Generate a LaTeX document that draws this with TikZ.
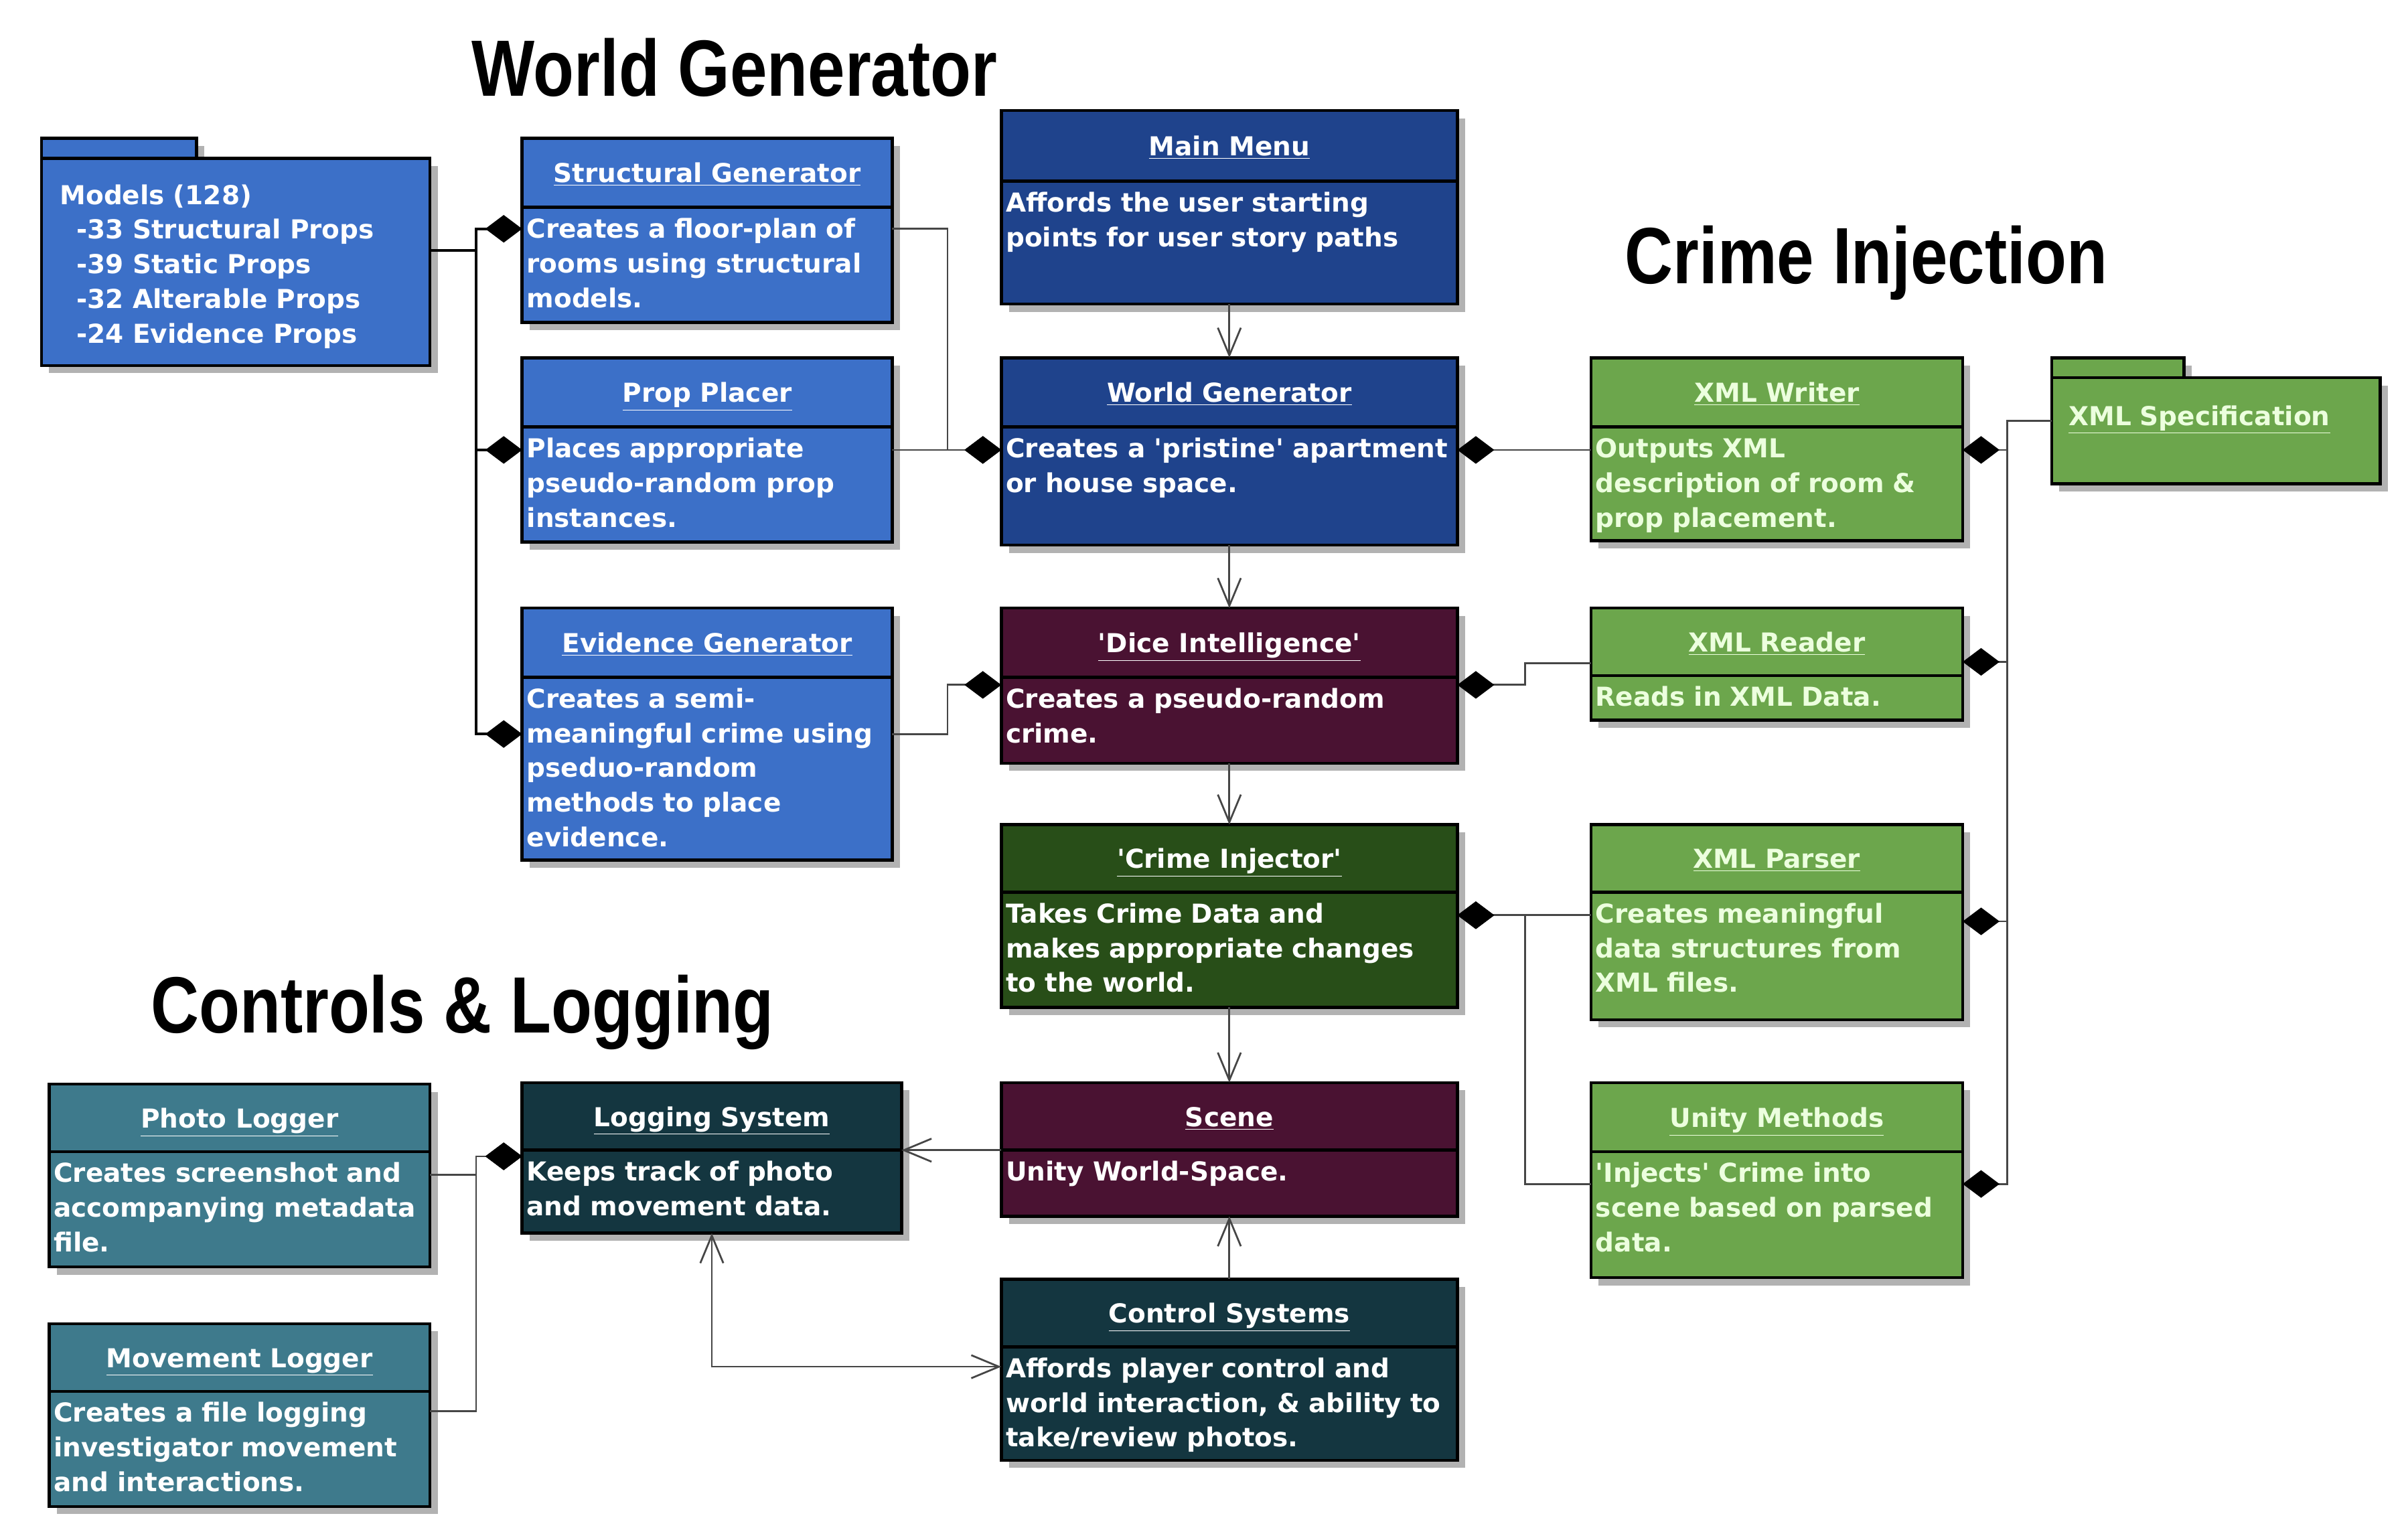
\documentclass[tikz,border=0pt]{standalone}
\usepackage{fontspec}
\setmainfont{DejaVu Sans}
\newfontfamily\titlefont[FakeStretch=0.836]{Liberation Sans}
\usepackage{tikz}
\usetikzlibrary{arrows.meta,shapes,positioning,shadows}
\usepackage{xcolor}
\definecolor{wgblue}{RGB}{60,112,200}
\definecolor{wgnavy}{RGB}{31,67,140}
\definecolor{ciwine}{RGB}{74,18,50}
\definecolor{ciforest}{RGB}{40,78,24}
\definecolor{cigreen}{RGB}{108,166,76}
\definecolor{cilight}{RGB}{236,255,222}
\definecolor{clteal}{RGB}{62,122,140}
\definecolor{cldark}{RGB}{20,54,64}
\definecolor{wiregray}{RGB}{70,70,70}
\tikzstyle{boxshadow} = [drop shadow={shadow xshift=5pt, shadow yshift=-5pt, fill=black!30, opacity=1}]
\tikzstyle{boxfont} = [font={\fontsize{17}{22.6}\selectfont\bfseries}]
\tikzstyle{classhead} = [rectangle, draw=black, line width=2pt, outer sep=0pt, inner sep=0pt, text=white, boxfont, text height=15pt, text depth=2pt, minimum height=45pt, anchor=north west, boxshadow]
\tikzstyle{classbody} = [rectangle, draw=black, line width=2pt, outer sep=0pt, inner xsep=3pt, inner ysep=3pt, text=white, boxfont, align=left, text height=17pt, boxshadow]
\tikzstyle{tabbox} = [rectangle, draw=black, line width=2pt, outer sep=0pt, inner sep=0pt, anchor=north west, boxshadow]
\tikzstyle{pkgbox} = [classbody, anchor=north west, inner ysep=3pt]
\tikzstyle{titletext} = [inner sep=0pt, anchor=base west, font={\titlefont\fontsize{52}{60}\selectfont\bfseries}]
\tikzstyle{line} = [draw=wiregray, line width=1.2pt]
\tikzstyle{arrow} = [line, -{Straight Barb[length=18pt,width=15pt]}]
\tikzstyle{twoway} = [line, {Straight Barb[length=18pt,width=15pt]}-{Straight Barb[length=18pt,width=15pt]}]
\tikzstyle{agg} = [line, -{Diamond[length=24pt,width=18pt,color=black]}]

\begin{document}
\begin{tikzpicture}[x=1pt, y=-1pt]
\useasboundingbox (0,0) rectangle (1568,995);

\node (wgtitle) [titletext] at (307,62.5) {World Generator};
\node (cititle) [titletext] at (1058,184.6) {Crime Injection};
\node (cltitle) [titletext] at (98,672.4) {Controls \& Logging};

\node (models-tab) [tabbox, fill=wgblue, minimum width=101pt, minimum height=13pt] at (27,90) {};
\node (models) [pkgbox, fill=wgblue, text width=229pt, inner xsep=12pt, text height=27pt, text depth=102pt] at (27,103) {Models (128)\\\hspace*{11pt}-33 Structural Props\\\hspace*{11pt}-39 Static Props\\\hspace*{11pt}-32 Alterable Props\\\hspace*{11pt}-24 Evidence Props};

\node (sgen) [classhead, fill=wgblue, minimum width=241pt] at (340,90) {\underline{Structural Generator}};
\node (sgen-b) [classbody, fill=wgblue, text width=235pt, text depth=52pt, below=0pt of sgen] {Creates a floor-plan of\\rooms using structural\\models.};
\node (pplace) [classhead, fill=wgblue, minimum width=241pt] at (340,233) {\underline{Prop Placer}};
\node (pplace-b) [classbody, fill=wgblue, text width=235pt, text depth=52pt, below=0pt of pplace] {Places appropriate\\pseudo-random prop\\instances.};
\node (egen) [classhead, fill=wgblue, minimum width=241pt] at (340,396) {\underline{Evidence Generator}};
\node (egen-b) [classbody, fill=wgblue, text width=235pt, text depth=96pt, below=0pt of egen] {Creates a semi-\\meaningful crime using\\pseduo-random\\methods to place\\evidence.};

\node (mmenu) [classhead, fill=wgnavy, minimum width=297pt, minimum height=46pt] at (652,72) {\underline{Main Menu}};
\node (mmenu-b) [classbody, fill=wgnavy, text width=291pt, text depth=57pt, below=0pt of mmenu] {Affords the user starting\\points for user story paths};
\node (wgen) [classhead, fill=wgnavy, minimum width=297pt] at (652,233) {\underline{World Generator}};
\node (wgen-b) [classbody, fill=wgnavy, text width=291pt, text depth=54pt, below=0pt of wgen] {Creates a \textquotesingle pristine\textquotesingle{} apartment\\or house space.};
\node (dice) [classhead, fill=ciwine, minimum width=297pt] at (652,396) {\underline{\textquotesingle Dice Intelligence\textquotesingle}};
\node (dice-b) [classbody, fill=ciwine, text width=291pt, text depth=33pt, below=0pt of dice] {Creates a pseudo-random\\crime.};
\node (cinj) [classhead, fill=ciforest, minimum width=297pt, minimum height=44pt] at (652,537) {\underline{\textquotesingle Crime Injector\textquotesingle}};
\node (cinj-b) [classbody, fill=ciforest, text width=291pt, text depth=52pt, below=0pt of cinj] {Takes Crime Data and\\makes appropriate changes\\to the world.};
\node (scene) [classhead, fill=ciwine, minimum width=297pt, minimum height=44pt] at (652,705) {\underline{Scene}};
\node (scene-b) [classbody, fill=ciwine, text width=291pt, text depth=20pt, below=0pt of scene] {Unity World-Space.};
\node (ctrl) [classhead, fill=cldark, minimum width=297pt, minimum height=44pt] at (652,833) {\underline{Control Systems}};
\node (ctrl-b) [classbody, fill=cldark, text width=291pt, text depth=51pt, below=0pt of ctrl] {Affords player control and\\world interaction, \& ability to\\take/review photos.};

\node (xwrite) [classhead, fill=cigreen, text=cilight, minimum width=242pt] at (1036,233) {\underline{XML Writer}};
\node (xwrite-b) [classbody, fill=cigreen, text=cilight, text width=236pt, text depth=51pt, below=0pt of xwrite] {Outputs XML\\description of room \&\\prop placement.};
\node (xread) [classhead, fill=cigreen, text=cilight, minimum width=242pt, minimum height=44pt] at (1036,396) {\underline{XML Reader}};
\node (xread-b) [classbody, fill=cigreen, text=cilight, text width=236pt, text depth=6pt, below=0pt of xread] {Reads in XML Data.};
\node (xparse) [classhead, fill=cigreen, text=cilight, minimum width=242pt, minimum height=44pt] at (1036,537) {\underline{XML Parser}};
\node (xparse-b) [classbody, fill=cigreen, text=cilight, text width=236pt, text depth=60pt, below=0pt of xparse] {Creates meaningful\\data structures from\\XML files.};
\node (unity) [classhead, fill=cigreen, text=cilight, minimum width=242pt] at (1036,705) {\underline{Unity Methods}};
\node (unity-b) [classbody, fill=cigreen, text=cilight, text width=236pt, text depth=59pt, below=0pt of unity] {\textquotesingle Injects\textquotesingle{} Crime into\\scene based on parsed\\data.};

\node (spec-tab) [tabbox, fill=cigreen, minimum width=86pt, minimum height=13pt] at (1336,233) {};
\node (spec) [pkgbox, fill=cigreen, text=cilight, text width=192pt, inner xsep=11pt, text height=28pt, text depth=35pt] at (1336,246) {\underline{XML Specification}};

\node (plog) [classhead, fill=clteal, minimum width=248pt, minimum height=44pt] at (32,706) {\underline{Photo Logger}};
\node (plog-b) [classbody, fill=clteal, text width=242pt, text depth=52pt, below=0pt of plog] {Creates screenshot and\\accompanying metadata\\file.};
\node (mlog) [classhead, fill=clteal, minimum width=248pt, minimum height=44pt] at (32,862) {\underline{Movement Logger}};
\node (mlog-b) [classbody, fill=clteal, text width=242pt, text depth=52pt, below=0pt of mlog] {Creates a file logging\\investigator movement\\and interactions.};
\node (logsys) [classhead, fill=cldark, minimum width=247pt, minimum height=44pt] at (340,705) {\underline{Logging System}};
\node (logsys-b) [classbody, fill=cldark, text width=241pt, text depth=31pt, below=0pt of logsys] {Keeps track of photo\\and movement data.};

\draw[agg, draw=black, line width=1.6pt] ([yshift=-60pt]models.north east) -- ++(30,0) |- ([yshift=-14pt]sgen-b.north west);
\draw[agg, draw=black, line width=1.6pt] ([yshift=-60pt]models.north east) -- ++(30,0) |- ([yshift=-15pt]pplace-b.north west);
\draw[agg, draw=black, line width=1.6pt] ([yshift=-60pt]models.north east) -- ++(30,0) |- ([yshift=-37pt]egen-b.north west);
\draw[agg] ([yshift=-14pt]sgen-b.north east) -- ++(36,0) |- ([yshift=-15pt]wgen-b.north west);
\draw[agg] ([yshift=-15pt]pplace-b.north east) -- ([yshift=-15pt]wgen-b.north west);
\draw[agg] ([yshift=-37pt]egen-b.north east) -- ++(36,0) |- ([yshift=-5pt]dice-b.north west);

\draw[arrow] (mmenu-b) -- (wgen);
\draw[arrow] (wgen-b) -- (dice);
\draw[arrow] (dice-b) -- (cinj);
\draw[arrow] (cinj-b) -- (scene);
\draw[arrow] (ctrl) -- (scene-b);
\draw[arrow] (scene.south west) -- (logsys.south east);
\draw[twoway] (logsys-b.south) |- ([yshift=-13pt]ctrl-b.north west);

\draw[agg] ([yshift=-15pt]plog-b.north east) -- ++(30,0) |- ([yshift=-4pt]logsys-b.north west);
\draw[agg] ([yshift=-13pt]mlog-b.north east) -- ++(30,0) |- ([yshift=-4pt]logsys-b.north west);

\draw[agg] ([yshift=-15pt]xwrite-b.north west) -- ([yshift=-15pt]wgen-b.north east);
\draw[agg] ([yshift=8pt]xread.south west) -- ++(-43,0) |- ([yshift=-5pt]dice-b.north east);
\draw[agg] ([yshift=-15pt]xparse-b.north west) -- ([yshift=-15pt]cinj-b.north east);
\draw[agg] ([yshift=-21pt]unity-b.north west) -- ++(-43,0) |- ([yshift=-15pt]cinj-b.north east);

\draw[agg] ([yshift=-28pt]spec.north west) -- ++(-29,0) |- ([yshift=-15pt]xwrite-b.north east);
\draw[agg] ([yshift=-28pt]spec.north west) -- ++(-29,0) |- ([yshift=9pt]xread.south east);
\draw[agg] ([yshift=-28pt]spec.north west) -- ++(-29,0) |- ([yshift=-19pt]xparse-b.north east);
\draw[agg] ([yshift=-28pt]spec.north west) -- ++(-29,0) |- ([yshift=-21pt]unity-b.north east);
\end{tikzpicture}
\end{document}
